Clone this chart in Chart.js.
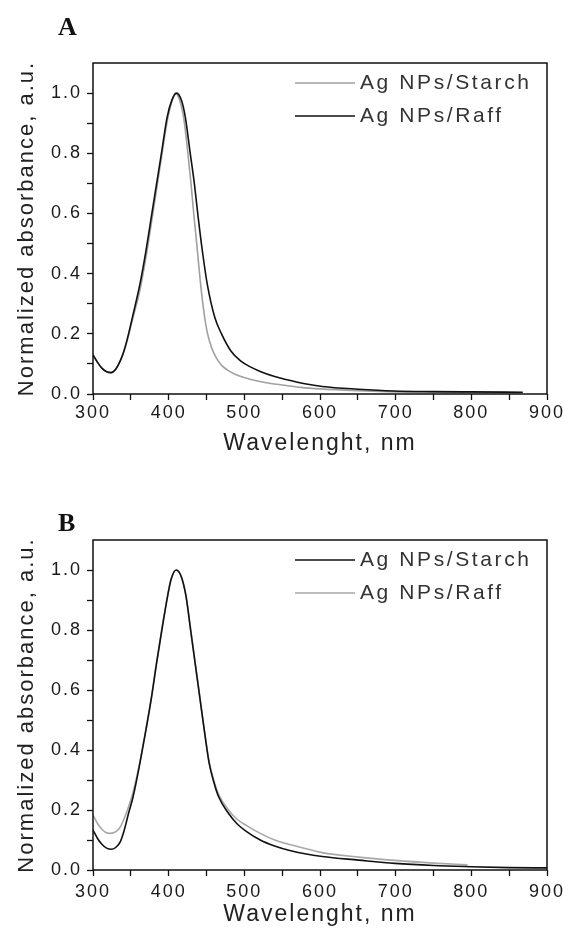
<!DOCTYPE html>
<html>
<head>
<meta charset="utf-8">
<script src="https://cdn.jsdelivr.net/npm/chart.js@4"></script>
<style>
  html, body { margin: 0; padding: 0; background: #fff; }
  body { width: 563px; height: 929px; position: relative; overflow: hidden; }
  canvas { position: absolute; left: 0; }
  .tag { position: absolute; z-index: 2; font: bold 26px "Liberation Serif", "Times New Roman", serif; line-height: 26px; color: #111; }
</style>
</head>
<body>
<canvas id="chartA" style="top:0" width="563" height="465"></canvas>
<canvas id="chartB" style="top:465px" width="563" height="464"></canvas>
<div class="tag" style="left:58px;top:14px">A</div>
<div class="tag" style="left:58px;top:510px">B</div>
<script>
// panel A
const wlStarchA = [300, 306, 312, 318, 324, 330, 336, 341, 345, 352, 362, 370, 377, 384, 391, 398, 404, 409, 414, 420, 425, 429.5, 433.5, 438, 442, 447, 451, 457, 463, 470, 480, 490, 503, 516, 535, 550, 575, 600, 650, 700, 750, 800, 865];
const absStarchA = [0.13, 0.105, 0.085, 0.074, 0.071, 0.082, 0.11, 0.142, 0.175, 0.245, 0.345, 0.455, 0.565, 0.68, 0.795, 0.905, 0.97, 1.0, 0.98, 0.915, 0.81, 0.7, 0.59, 0.476, 0.37, 0.265, 0.205, 0.152, 0.12, 0.095, 0.076, 0.063, 0.052, 0.044, 0.035, 0.03, 0.022, 0.017, 0.011, 0.007, 0.005, 0.005, 0.004];
const wlRaffA = [300, 306, 312, 318, 324, 330, 336, 341, 345, 352, 362, 370, 377, 384, 391, 398, 404, 410.5, 417, 422, 428, 434, 439, 444.5, 451, 461, 470, 482, 495, 508, 521, 540, 555, 580, 603, 650, 698, 750, 800, 868];
const absRaffA = [0.13, 0.105, 0.085, 0.074, 0.071, 0.082, 0.11, 0.144, 0.18, 0.254, 0.365, 0.476, 0.587, 0.698, 0.809, 0.92, 0.975, 1.0, 0.975, 0.92, 0.809, 0.698, 0.587, 0.476, 0.365, 0.254, 0.199, 0.144, 0.11, 0.09, 0.075, 0.058, 0.048, 0.034, 0.025, 0.016, 0.01, 0.008, 0.007, 0.006];

// panel B
const wlStarchB = [300, 306, 312, 318, 324, 330, 336, 341, 347, 353, 362, 370, 377.5, 384, 391, 398.5, 403, 410, 417, 423, 429, 435, 441, 447, 453.5, 460, 466, 479, 490, 503, 521, 540, 560, 603, 651, 699, 750, 800, 850, 900];
const absStarchB = [0.133, 0.105, 0.085, 0.073, 0.069, 0.075, 0.094, 0.13, 0.189, 0.244, 0.356, 0.467, 0.578, 0.689, 0.8, 0.911, 0.967, 1.0, 0.975, 0.911, 0.8, 0.689, 0.578, 0.467, 0.356, 0.29, 0.244, 0.189, 0.155, 0.128, 0.1, 0.08, 0.065, 0.045, 0.033, 0.022, 0.015, 0.011, 0.008, 0.007];
const wlRaffB = [300, 306, 312, 317, 322, 328, 335, 341, 347, 353, 362, 370, 377.5, 384, 391, 398.5, 403, 410, 417, 423, 429, 435, 441, 447, 453.5, 460, 466, 479, 490, 503, 521, 540, 560, 603, 651, 699, 750, 795];
const absRaffB = [0.183, 0.155, 0.135, 0.125, 0.122, 0.125, 0.139, 0.17, 0.211, 0.26, 0.36, 0.47, 0.582, 0.693, 0.804, 0.914, 0.969, 1.0, 0.977, 0.913, 0.803, 0.692, 0.581, 0.47, 0.36, 0.296, 0.252, 0.2, 0.17, 0.148, 0.122, 0.1, 0.085, 0.058, 0.043, 0.032, 0.023, 0.017];

const labelStarch = 'Ag NPs/Starch';
const labelRaff = 'Ag NPs/Raff';
const xTitle = 'Wavelenght, nm';
const yTitle = 'Normalized absorbance, a.u.';

const FONT = '"Liberation Sans", Arial, sans-serif';
Chart.defaults.font.family = FONT;
Chart.defaults.color = '#222';

function pts(xs, ys) {
  return xs.map((x, i) => ({x: x, y: ys[i]}));
}

// the scanned figure has wide letter spacing
const spacing = {
  id: 'spacing',
  beforeDraw(chart) { chart.ctx.letterSpacing = '2px'; }
};

// full box round the plot
const frame = {
  id: 'frame',
  afterDatasetsDraw(chart) {
    const a = chart.chartArea, ctx = chart.ctx;
    ctx.save();
    ctx.strokeStyle = '#111';
    ctx.lineWidth = 1.5;
    ctx.strokeRect(a.left, a.top, a.right - a.left, a.bottom - a.top);
    ctx.restore();
  }
};

// legend inside the plot, line sample + label
const lineLegend = {
  id: 'lineLegend',
  afterDraw(chart) {
    const ctx = chart.ctx, top = chart.chartArea.top;
    ctx.save();
    ctx.font = '21px ' + FONT;
    ctx.letterSpacing = '2.6px';
    ctx.textBaseline = 'middle';
    ctx.fillStyle = '#333';
    chart.data.datasets.forEach((ds, i) => {
      const y = top + 20 + i * 33;
      ctx.strokeStyle = ds.borderColor;
      ctx.lineWidth = 1.6;
      ctx.beginPath();
      ctx.moveTo(295, y);
      ctx.lineTo(355, y);
      ctx.stroke();
      ctx.fillText(ds.label, 360, y);
    });
    ctx.restore();
  }
};

function makeChart(id, sets, box) {
  return new Chart(document.getElementById(id), {
    type: 'line',
    data: {
      datasets: sets.map(s => ({
        label: s.label,
        data: pts(s.x, s.y),
        borderColor: s.color,
        borderWidth: 1.6,
        pointRadius: 0,
        tension: 0.4,
        cubicInterpolationMode: 'monotone',
        fill: false,
        order: s.order
      }))
    },
    options: {
      responsive: false,
      animation: false,
      events: [],
      layout: { padding: { top: box.top, right: 16, left: 0, bottom: 0 } },
      plugins: { legend: { display: false }, tooltip: { enabled: false } },
      scales: {
        x: {
          type: 'linear', min: 300, max: 900,
          afterFit: s => { s.height = box.xh; s.paddingLeft = 0; s.paddingRight = 0; },
          border: { display: false },
          grid: { drawOnChartArea: false, drawTicks: true, tickLength: 6, tickColor: '#111', tickWidth: 1.3 },
          ticks: {
            stepSize: 50, autoSkip: false, maxRotation: 0, padding: box.xpad,
            font: { size: 18 }, color: '#1a1a1a',
            callback: v => v % 100 === 0 ? String(v) : ''
          },
          title: { display: true, text: xTitle, font: { size: 23 }, color: '#222', padding: { top: 0, bottom: box.tpad } }
        },
        y: {
          min: 0, max: 1.1,
          afterFit: s => { s.width = 93; s.paddingTop = 0; s.paddingBottom = 0; },
          border: { display: false },
          grid: {
            drawOnChartArea: false, drawTicks: true, tickLength: 6, tickWidth: 1.3,
            tickColor: c => (c.tick && c.tick.value > 1.05) ? 'rgba(0,0,0,0)' : '#111'
          },
          ticks: {
            stepSize: 0.1, autoSkip: false, padding: 5,
            font: { size: 18 }, color: '#1a1a1a',
            callback: v => Math.round(v * 10) % 2 === 0 ? v.toFixed(1) : ''
          },
          title: { display: true, text: yTitle, font: { size: 22 }, color: '#222', padding: { top: 14, bottom: 0 } }
        }
      }
    },
    plugins: [spacing, frame, lineLegend]
  });
}

makeChart('chartA', [
  { label: labelStarch, x: wlStarchA, y: absStarchA, color: '#a0a0a0', order: 1 },
  { label: labelRaff, x: wlRaffA, y: absRaffA, color: '#111111', order: 0 }
], { top: 63, xh: 71, xpad: 2, tpad: 8 });

makeChart('chartB', [
  { label: labelStarch, x: wlStarchB, y: absStarchB, color: '#111111', order: 0 },
  { label: labelRaff, x: wlRaffB, y: absRaffB, color: '#a8a8a8', order: 1 }
], { top: 75, xh: 59, xpad: 5, tpad: 1 });
</script>
</body>
</html>
